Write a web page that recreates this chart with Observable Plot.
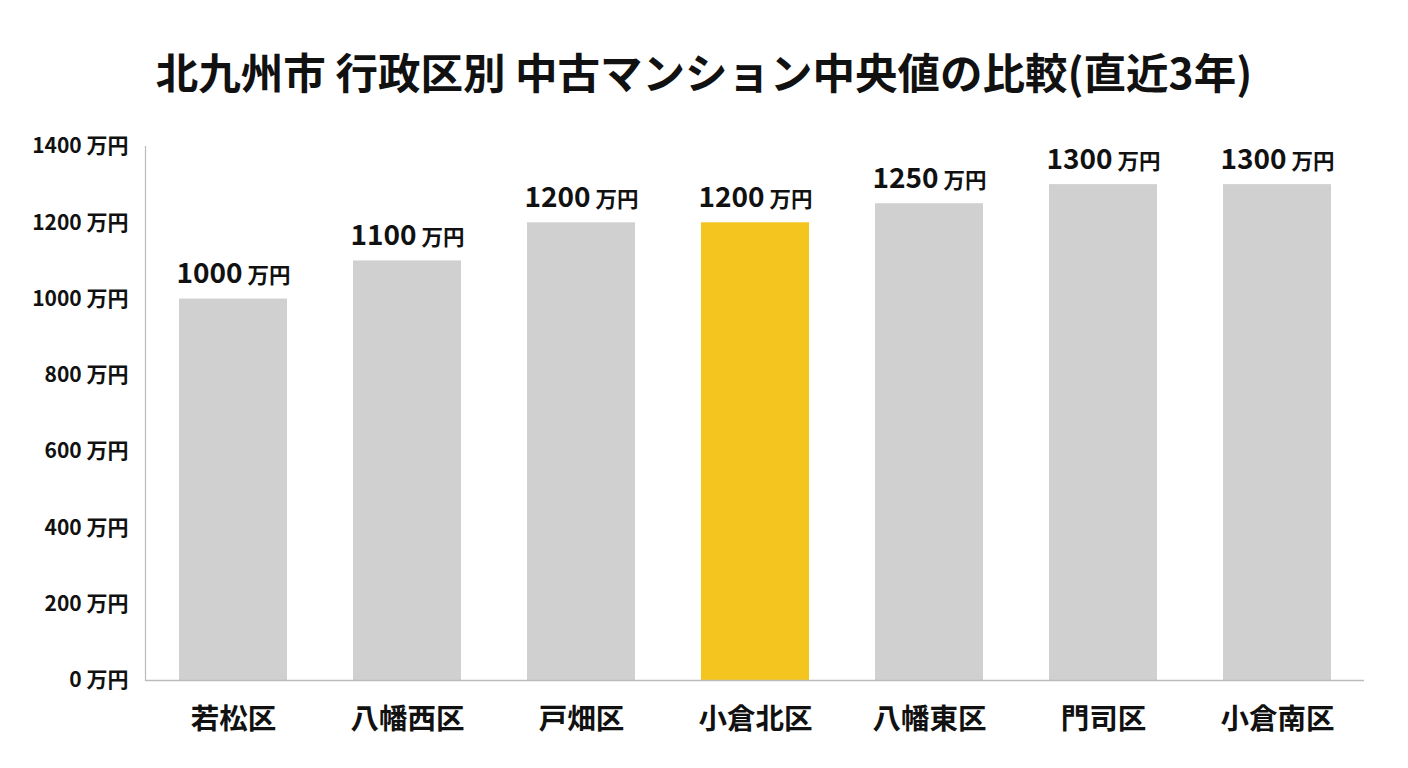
<!DOCTYPE html>
<html>
<head>
<meta charset="utf-8">
<script src="https://cdn.jsdelivr.net/npm/d3@7"></script>
<script src="https://cdn.jsdelivr.net/npm/@observablehq/plot@0.6"></script>
<style>
  html, body { margin: 0; padding: 0; background: #fff; }
  body { width: 1408px; height: 768px; overflow: hidden; font-family: "Noto Sans CJK JP", "Noto Sans", sans-serif; }
  #title { box-sizing: border-box; height: 110px; padding-top: 49px; line-height: 43px; font-size: 42.5px; font-weight: 700; text-align: center; color: #111; }
  #chart svg { display: block; }
</style>
</head>
<body>
<div id="title">北九州市 行政区別 中古マンション中央値の比較(直近3年)</div>
<div id="chart"></div>
<script>
const districts = ["若松区", "八幡西区", "戸畑区", "小倉北区", "八幡東区", "門司区", "小倉南区"];
const values = [1000, 1100, 1200, 1200, 1250, 1300, 1300];
const highlight = "小倉北区";
const yTicks = [0, 200, 400, 600, 800, 1000, 1200, 1400];
const unit = "万円";

const data = districts.map((d, i) => ({district: d, value: values[i]}));
const font = "Noto Sans CJK JP";

const chart = Plot.plot({
  width: 1408,
  height: 658,
  marginTop: 36,
  marginBottom: 88,
  marginLeft: 145,
  marginRight: 44,
  style: {fontFamily: font, background: "#fff", color: "#111"},
  x: {domain: districts, paddingInner: 0.38, paddingOuter: 0.19, label: null},
  y: {domain: [0, 1400], label: null},
  color: {type: "identity"},
  marks: [
    Plot.barY(data, {x: "district", y: "value", fill: d => d.district === highlight ? "#F4C51E" : "#D0D0D0"}),
    Plot.frame({anchor: "left", stroke: "#BBBBBB", strokeWidth: 1.2}),
    Plot.ruleY([0], {stroke: "#BBBBBB", strokeWidth: 1.5}),
    Plot.axisY({ticks: yTicks, tickSize: 0, tickPadding: 17, tickFormat: d => `${d} ${unit}`, fontSize: 21, fontWeight: 700, fill: "#111", label: null}),
    Plot.axisX({tickSize: 0, tickPadding: 28, fontSize: 28.5, fontWeight: 700, fill: "#111", label: null}),
    Plot.text(data, {x: "district", y: "value", text: d => String(d.value), textAnchor: "end", lineAnchor: "bottom", dx: 9, dy: -16, fontSize: 28, fontWeight: 700, fill: "#111"}),
    Plot.text(data, {x: "district", y: "value", text: d => unit, textAnchor: "start", lineAnchor: "bottom", dx: 14, dy: -16, fontSize: 21.5, fontWeight: 700, fill: "#111"})
  ]
});
document.getElementById("chart").appendChild(chart);
</script>
</body>
</html>
